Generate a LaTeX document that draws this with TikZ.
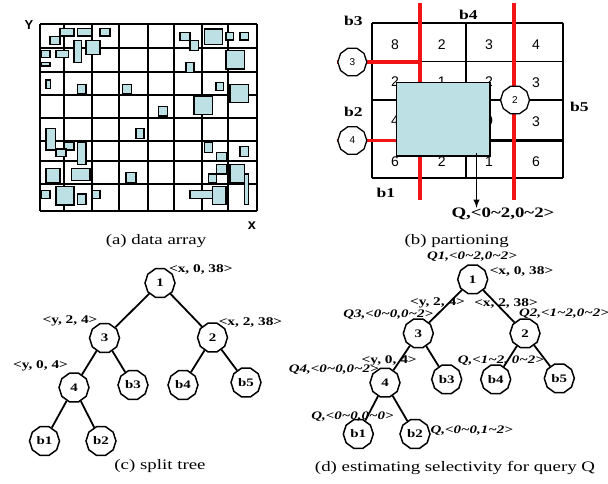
\documentclass[tikz,border=0pt]{standalone}
\usepackage{fontspec}
\setmainfont{Liberation Serif}[FakeStretch=1.3]
\setsansfont{Liberation Sans}
\usetikzlibrary{shapes.geometric}
\definecolor{boxblue}{RGB}{188,224,228}
\definecolor{splitred}{RGB}{240,20,20}
\newcommand{\tld}{\textasciitilde}

\begin{document}
\begin{tikzpicture}[x=1pt,y=-1pt]
  \tikzstyle{gridline} = [line width=1.8pt]
  \tikzstyle{databox} = [draw=black,fill=boxblue,line width=1.5pt]
  \tikzstyle{split} = [draw=splitred,line width=3.6pt]
  \tikzstyle{cnum} = [font=\sffamily\fontsize{14}{14}\selectfont]
  \tikzstyle{pnode} = [regular polygon,regular polygon sides=10,draw=black,
  fill=white,line width=1.3pt,minimum size=29pt,inner sep=0pt,
  font=\sffamily\fontsize{10}{10}\selectfont]
  \tikzstyle{tnode} = [regular polygon,regular polygon sides=10,draw=black,
  fill=white,line width=1.5pt,minimum size=30pt,inner sep=0pt,
  font=\bfseries\fontsize{11.5}{11.5}\selectfont]
  \tikzstyle{tedge} = [line width=1.8pt]
  \tikzstyle{tlabel} = [font=\bfseries\fontsize{11.8}{12}\selectfont,inner sep=0pt]
  \tikzstyle{qlabel} = [font=\bfseries\itshape\fontsize{11.5}{12}\selectfont,inner sep=0pt]
  \tikzstyle{blabel} = [font=\bfseries\fontsize{13.5}{13.5}\selectfont,inner sep=0pt]
  \tikzstyle{caption} = [font=\fontsize{14.5}{14.5}\selectfont,inner sep=0pt]

  \useasboundingbox (0,0) rectangle (608,483);

  % (a) data array
  \foreach \gx in {40,64.3,92.3,119,148.3,174.3,202.3,228.3,256.7}
    \draw[gridline] (\gx,24) -- (\gx,210.7);
  \foreach \gy in {24,48.3,71.7,95,118.3,140.7,161,184.3,210.7}
    \draw[gridline] (40,\gy) -- (256.7,\gy);
  \foreach \ax/\ay/\bx/\by in {50/36.7/60/44.3, 60/28.3/74/36, 77.7/28.3/91.7/36,
    100/28.3/110/36, 41.7/50.7/50/57.7, 56/50.7/68.3/57.7, 74/40.7/81.7/62.3,
    86/40.7/100/54.3, 41.7/62.3/50/66, 46/80/50.7/88.3, 77.7/84.3/86/94,
    122.3/84.3/131.7/94, 158.3/106.7/167.7/116, 136/128.3/144/138.3,
    46/128.3/55.7/150, 64.3/142.7/74/150, 56/149/66/156.7, 77.7/142.7/86/164.3,
    46/168.3/60/182.7, 71.7/168.3/90/180.7, 126/172.3/136/182.7,
    41.7/190.7/50/198.3, 56/186.7/74/205, 77.7/194/86/204.3, 92.7/190.7/100/198.3,
    180/32.3/190/40.7, 190/40.7/198.3/50.7, 204.3/29/222.3/44.3,
    226/32.3/233.3/40, 240/32.3/248.3/40, 226/50.7/244.3/69, 186/62.3/194/72.3,
    216/82.3/223.3/90.7, 230/84.3/248.3/102.3, 194/96.7/212.3/114.3,
    204.3/142.7/212.3/152.3, 216.7/152.3/226.7/160.7, 240/146.7/248.3/156.7,
    216.7/164.3/226.7/174, 208.3/174/216.7/182.7, 230/164.3/244.3/182.7,
    244.3/174/248.3/204.3, 190/190.7/213.3/198.3, 212.3/186.7/226/204.3}
    \draw[databox] (\ax,\ay) rectangle (\bx,\by);
  \node[font=\sffamily\bfseries\fontsize{13}{13}\selectfont] (ylab) at (29,25) {Y};
  \node[font=\sffamily\bfseries\fontsize{14.5}{14.5}\selectfont] (xlab) at (252,226) {x};
  \node[caption] (capa) at (156,241) {(a) data array};

  % (b) partioning
  \foreach \gx in {371.7,420,466,514,562.7}
    \draw[gridline] (\gx,22.7) -- (\gx,178.3);
  \foreach \gy in {22.7,61.5,100,178.3}
    \draw[gridline] (371.7,\gy) -- (562.7,\gy);
  \draw[gridline] (371.7,140) -- (490,140);
  \draw[line width=3pt] (490,140) -- (562.7,140);
  \foreach \cx/\cy/\cv in {395/44.3/8, 441.7/44.3/2, 489/44.3/3, 536/44.3/4,
    395/81.7/2, 441.7/81.7/1, 489/81.7/2, 536/82.5/3,
    395/121/4, 489/121/0, 536/121.5/3,
    395/161.7/6, 441.7/161.7/2, 489/161.7/1, 536/161.7/6}
    \node[cnum] at (\cx,\cy) {\cv};
  \draw[split] (420,3.3) -- (420,200);
  \draw[split] (514,3.3) -- (514,200);
  \coordinate (s3) at (420,61.7);
  \coordinate (s4) at (396.5,140.5);
  \draw[split] (336.5,61.7) -- (s3);
  \draw[split] (336.5,140.5) -- (s4);
  \draw[databox] (396.5,82.7) rectangle (490,156);
  \node[pnode] (p3) at (352.3,62) {3};
  \node[pnode] (p4) at (352.3,140.5) {4};
  \node[pnode] (p2) at (515,100) {2};
  \node[blabel] (b3) at (353.3,20.7) {b3};
  \node[blabel] (b4) at (468.3,15) {b4};
  \node[blabel] (b2) at (353.3,111.7) {b2};
  \node[blabel] (b5) at (579.3,106.7) {b5};
  \node[blabel] (b1) at (386,193.3) {b1};
  \coordinate (qtail) at (476.5,152.5);
  \node[blabel,font=\bfseries\fontsize{14.5}{14.5}\selectfont] (qbox) at (503,214)
  {Q,<0\tld2,0\tld2>};
  \draw[line width=1.8pt,-latex] (qtail) -- (qtail |- qbox.north);
  \node[caption] (capb) at (456.7,241) {(b) partioning};

  % (c) split tree
  \node[tnode] (c1) at (160,283) {1};
  \node[tnode] (c3) at (104.5,338) {3};
  \node[tnode] (c2) at (212.5,337.5) {2};
  \node[tnode] (c4) at (74,387.5) {4};
  \node[tnode] (cb3) at (133,385) {b3};
  \node[tnode] (cb4) at (183,385) {b4};
  \node[tnode] (cb5) at (246,382.5) {b5};
  \node[tnode] (cb1) at (44.5,441) {b1};
  \node[tnode] (cb2) at (101,441) {b2};
  \draw[tedge] (c1) -- (c3);
  \draw[tedge] (c1) -- (c2);
  \draw[tedge] (c3) -- (c4);
  \draw[tedge] (c3) -- (cb3);
  \draw[tedge] (c2) -- (cb4);
  \draw[tedge] (c2) -- (cb5);
  \draw[tedge] (c4) -- (cb1);
  \draw[tedge] (c4) -- (cb2);
  \node[tlabel] (cl1) at (200.8,269) {<x, 0, 38>};
  \node[tlabel] (cl3) at (70,321) {<y, 2, 4>};
  \node[tlabel] (cl2) at (250.5,322.7) {<x, 2, 38>};
  \node[tlabel] (cl4) at (40.5,365.7) {<y, 0, 4>};
  \node[caption] (capc) at (160,466) {(c) split tree};

  % (d) estimating selectivity
  \node[tnode] (d1) at (472.7,279.3) {1};
  \node[tnode] (d3) at (418.3,333.3) {3};
  \node[tnode] (d2) at (525,333.3) {2};
  \node[tnode] (d4) at (385,382.7) {4};
  \node[tnode] (db3) at (446.7,379.3) {b3};
  \node[tnode] (db4) at (495.7,379.3) {b4};
  \node[tnode] (db5) at (559.3,378.3) {b5};
  \node[tnode] (db1) at (358.3,434) {b1};
  \node[tnode] (db2) at (415,434) {b2};
  \draw[tedge] (d1) -- (d3);
  \draw[tedge] (d1) -- (d2);
  \draw[tedge] (d3) -- (d4);
  \draw[tedge] (d3) -- (db3);
  \draw[tedge] (d2) -- (db4);
  \draw[tedge] (d2) -- (db5);
  \draw[tedge] (d4) -- (db1);
  \draw[tedge] (d4) -- (db2);
  \node[qlabel] (ql1) at (472,256.7) {Q1,<0\tld2,0\tld2>};
  \node[tlabel] (dl1) at (521.5,271.7) {<x, 0, 38>};
  \node[tlabel] (dl3) at (437.5,303.3) {<y, 2, 4>};
  \node[tlabel] (dl2) at (506,303.3) {<x, 2, 38>};
  \node[qlabel] (ql3) at (388.3,314.3) {Q3,<0\tld0,0\tld2>};
  \node[qlabel] (ql2) at (564,313.3) {Q2,<1\tld2,0\tld2>};
  \node[tlabel] (dl4) at (389.2,361) {<y, 0, 4>};
  \node[qlabel] (qb4) at (500.8,361) {Q,<1\tld2, 0\tld2>};
  \node[qlabel] (ql4) at (333.7,369.3) {Q4,<0\tld0,0\tld2>};
  \node[qlabel] (qb1) at (352.5,416.7) {Q,<0\tld0,0\tld0>};
  \node[qlabel] (qb2) at (471.7,431) {Q,<0\tld0,1\tld2>};
  \node[caption] (capd) at (455,468) {(d) estimating selectivity for query Q};
\end{tikzpicture}
\end{document}
